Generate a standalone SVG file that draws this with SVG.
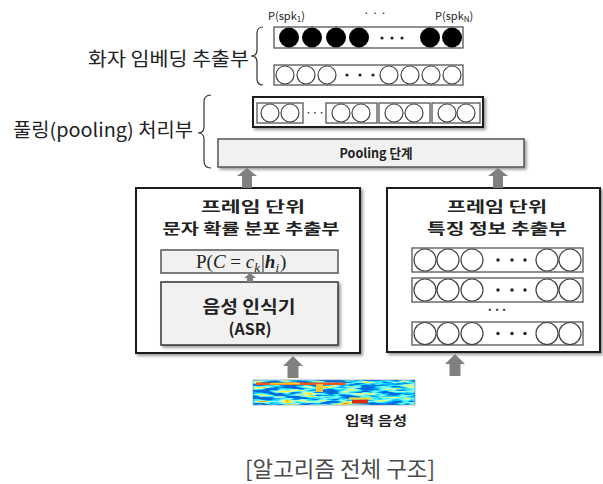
<svg xmlns="http://www.w3.org/2000/svg" width="603" height="484" viewBox="0 0 603 484">
  <defs>
    <style>
      .lbl { font-family: "Noto Sans CJK KR", "Noto Sans", sans-serif; fill: #222; }
      .bold { font-weight: bold; }
      .row { fill: #fff; stroke: #555; stroke-width: 1.3; }
      .cell { fill: #fff; stroke: #444; stroke-width: 1.2; }
      .dot { fill: #222; }
      .frame { fill: #fff; stroke: #1a1a1a; stroke-width: 2; }
      .panel { fill: #f1f1f1; stroke: #555; stroke-width: 1.5; }
      .brace { fill: none; stroke: #333; stroke-width: 1.2; }
      .arrow { fill: #808080; }
      .math { font-family: "Liberation Serif", "DejaVu Serif", serif; fill: #222; }
    </style>
    <filter id="shadow" x="-10%" y="-20%" width="130%" height="150%">
      <feDropShadow dx="2" dy="2" stdDeviation="1.4" flood-color="#000" flood-opacity="0.4"/>
    </filter>
    <!-- jet-coloured noise for the spectrogram strip -->
    <filter id="spec" x="253" y="380" width="162" height="25" filterUnits="userSpaceOnUse">
      <feTurbulence type="fractalNoise" baseFrequency="0.05 0.3" numOctaves="3" seed="7"/>
      <feColorMatrix type="matrix" values="2.2 0 0 0 -0.85  2.2 0 0 0 -0.85  2.2 0 0 0 -0.85  0 0 0 0 1"/>
      <feComponentTransfer>
        <feFuncR type="table" tableValues="0 0 0.05 0.3 0.9 1 0.85"/>
        <feFuncG type="table" tableValues="0.15 0.5 0.9 1 1 0.55 0.05"/>
        <feFuncB type="table" tableValues="0.75 1 1 0.7 0.1 0 0"/>
      </feComponentTransfer>
    </filter>
    <filter id="soft" x="-20%" y="-50%" width="140%" height="200%">
      <feGaussianBlur stdDeviation="0.6"/>
    </filter>
    <clipPath id="specClip"><rect x="253" y="380" width="162" height="25"/></clipPath>
  </defs>

  <rect width="603" height="484" fill="#fff"/>

  <!-- speaker embedding extractor -->
  <g id="speaker-embedding">
    <text class="lbl" x="88" y="66" font-size="19" textLength="161" lengthAdjust="spacingAndGlyphs">화자 임베딩 추출부</text>
    <path class="brace" d="M263,27 Q257,27 257,33 V50 Q257,56 251,56 Q257,56 257,62 V79 Q257,85 263,85"/>
    <text class="lbl" x="268" y="20" font-size="11">P(spk<tspan font-size="8" dy="2">1</tspan><tspan dy="-2">)</tspan></text>
    <text class="lbl" x="375" y="17" font-size="11" text-anchor="middle">· · ·</text>
    <text class="lbl" x="435" y="20" font-size="11">P(spk<tspan font-size="8" dy="2">N</tspan><tspan dy="-2">)</tspan></text>
    <rect class="row" x="274" y="27" width="189" height="21"/>
    <g fill="#000">
      <circle cx="289" cy="37.5" r="10"/>
      <circle cx="312" cy="37.5" r="10"/>
      <circle cx="336" cy="37.5" r="10"/>
      <circle cx="359" cy="37.5" r="10"/>
      <circle cx="430" cy="37.5" r="10"/>
      <circle cx="452" cy="37.5" r="10"/>
    </g>
    <circle class="dot" cx="382" cy="38" r="1.6"/>
    <circle class="dot" cx="392" cy="38" r="1.6"/>
    <circle class="dot" cx="402" cy="38" r="1.6"/>
    <rect class="row" x="274" y="65" width="189" height="20"/>
    <circle class="cell" cx="285" cy="75" r="9"/>
    <circle class="cell" cx="306" cy="75" r="9"/>
    <circle class="cell" cx="327" cy="75" r="9"/>
    <circle class="dot" cx="347" cy="75" r="1.6"/>
    <circle class="dot" cx="360" cy="75" r="1.6"/>
    <circle class="dot" cx="373" cy="75" r="1.6"/>
    <circle class="cell" cx="389" cy="75" r="9"/>
    <circle class="cell" cx="410" cy="75" r="9"/>
    <circle class="cell" cx="431" cy="75" r="9"/>
    <circle class="cell" cx="452" cy="75" r="9"/>
  </g>

  <!-- pooling processor -->
  <g id="pooling">
    <text class="lbl" x="13" y="137" font-size="19" textLength="180" lengthAdjust="spacingAndGlyphs">풀링(pooling) 처리부</text>
    <path class="brace" d="M211,95 Q204,95 204,102 V127 Q204,133 198,133 Q204,133 204,139 V161 Q204,168 211,168"/>
    <rect class="frame" x="253" y="97" width="230" height="30" filter="url(#shadow)"/>
    <rect class="row" x="257" y="103" width="46" height="20"/>
    <circle class="cell" cx="270" cy="113" r="9"/>
    <circle class="cell" cx="290" cy="113" r="9"/>
    <text class="lbl" x="315" y="117" font-size="12" text-anchor="middle">···</text>
    <rect class="row" x="326" y="103" width="51" height="20"/>
    <circle class="cell" cx="341" cy="113" r="9"/>
    <circle class="cell" cx="361" cy="113" r="9"/>
    <rect class="row" x="379" y="103" width="51" height="20"/>
    <circle class="cell" cx="394" cy="113" r="9"/>
    <circle class="cell" cx="414" cy="113" r="9"/>
    <rect class="row" x="432" y="103" width="48" height="20"/>
    <circle class="cell" cx="447" cy="113" r="9"/>
    <circle class="cell" cx="466" cy="113" r="9"/>
  </g>

  <g id="pooling-stage">
    <rect class="panel" x="218" y="139" width="306" height="28" filter="url(#shadow)"/>
    <text class="lbl bold" x="376" y="158" font-size="13" text-anchor="middle" textLength="73" lengthAdjust="spacingAndGlyphs">Pooling 단계</text>
  </g>

  <!-- frame-level character probability extractor -->
  <g id="char-prob">
    <rect class="frame" x="136" y="188" width="224" height="165" filter="url(#shadow)"/>
    <text class="lbl bold" x="253" y="212" font-size="14.5" text-anchor="middle" textLength="104" lengthAdjust="spacingAndGlyphs">프레임 단위</text>
    <text class="lbl bold" x="251" y="234" font-size="14.5" text-anchor="middle" textLength="177" lengthAdjust="spacingAndGlyphs">문자 확률 분포 추출부</text>
  </g>

  <g id="posterior">
    <rect class="panel" x="161" y="250" width="177" height="23"/>
    <text class="math" x="196" y="268" font-size="19">P(<tspan font-style="italic">C</tspan> = <tspan font-style="italic">c</tspan><tspan font-style="italic" font-size="13" dy="4">k</tspan><tspan dx="1" dy="-4">|</tspan><tspan font-style="italic" font-weight="bold">h</tspan><tspan font-style="italic" font-size="13" dy="4">i</tspan><tspan dx="1" dy="-4">)</tspan></text>
  </g>

  <g id="asr">
    <rect class="panel" x="161" y="282" width="177" height="63" filter="url(#shadow)" style="stroke:#333"/>
    <text class="lbl bold" x="249" y="313" font-size="17" text-anchor="middle" textLength="93" lengthAdjust="spacingAndGlyphs">음성 인식기</text>
    <text class="lbl bold" x="250" y="335" font-size="16" text-anchor="middle">(ASR)</text>
  </g>

  <!-- frame-level feature extractor -->
  <g id="feature">
    <rect class="frame" x="387" y="188" width="213" height="164" filter="url(#shadow)"/>
    <text class="lbl bold" x="497" y="212" font-size="14.5" text-anchor="middle" textLength="100" lengthAdjust="spacingAndGlyphs">프레임 단위</text>
    <text class="lbl bold" x="497" y="234" font-size="14.5" text-anchor="middle" textLength="140" lengthAdjust="spacingAndGlyphs">특징 정보 추출부</text>
    <g id="feat-row-1">
      <rect class="row" x="412" y="248" width="171" height="24"/>
      <circle class="cell" cx="425" cy="260" r="11"/>
      <circle class="cell" cx="448" cy="260" r="11"/>
      <circle class="cell" cx="472" cy="260" r="11"/>
      <circle class="dot" cx="498" cy="260" r="1.7"/>
      <circle class="dot" cx="512" cy="260" r="1.7"/>
      <circle class="dot" cx="525" cy="260" r="1.7"/>
      <circle class="cell" cx="547" cy="260" r="11"/>
      <circle class="cell" cx="570" cy="260" r="11"/>
    </g>
    <g id="feat-row-2">
      <rect class="row" x="412" y="278" width="171" height="24"/>
      <circle class="cell" cx="425" cy="290" r="11"/>
      <circle class="cell" cx="448" cy="290" r="11"/>
      <circle class="cell" cx="472" cy="290" r="11"/>
      <circle class="dot" cx="498" cy="290" r="1.7"/>
      <circle class="dot" cx="512" cy="290" r="1.7"/>
      <circle class="dot" cx="525" cy="290" r="1.7"/>
      <circle class="cell" cx="547" cy="290" r="11"/>
      <circle class="cell" cx="570" cy="290" r="11"/>
    </g>
    <text class="lbl bold" x="497" y="314" font-size="12" text-anchor="middle">···</text>
    <g id="feat-row-3">
      <rect class="row" x="412" y="322" width="171" height="23"/>
      <circle class="cell" cx="425" cy="333.5" r="11"/>
      <circle class="cell" cx="448" cy="333.5" r="11"/>
      <circle class="cell" cx="472" cy="333.5" r="11"/>
      <circle class="dot" cx="498" cy="333.5" r="1.7"/>
      <circle class="dot" cx="512" cy="333.5" r="1.7"/>
      <circle class="dot" cx="525" cy="333.5" r="1.7"/>
      <circle class="cell" cx="547" cy="333.5" r="11"/>
      <circle class="cell" cx="570" cy="333.5" r="11"/>
    </g>
  </g>

  <!-- input speech spectrogram -->
  <g id="input-speech">
    <rect x="253" y="380" width="162" height="25" fill="#2a7fff" filter="url(#spec)"/>
    <g clip-path="url(#specClip)" filter="url(#soft)">
      <path d="M256,382.5 H345 V385 H256 Z" fill="#f2541a"/>
      <path d="M270,383 H300 V384.5 H270 Z" fill="#ffd020"/>
      <path d="M316,384 h7 v8 h-7 Z" fill="#ffc030"/>
      <path d="M352,399.5 h16 v4 h-16 Z" fill="#e02a10"/>
      <path d="M349,397.5 h22 v2 h-22 Z" fill="#ffd830"/>
    </g>
    <rect x="253" y="380" width="162" height="25" fill="none" stroke="#6a7fa0" stroke-width="0.6"/>
    <text class="lbl bold" x="345" y="425" font-size="13" textLength="62" lengthAdjust="spacingAndGlyphs">입력 음성</text>
  </g>

  <!-- connectors -->
  <g id="connectors">
    <path class="arrow" d="M242,188 V176 H237 L247,168 L257,176 H252 V188 Z"/>
    <path class="arrow" d="M493,188 V176 H488 L498,168 L508,176 H503 V188 Z"/>
    <path class="arrow" d="M247,282 V278 H244 L250,273 L256,278 H253 V282 Z"/>
    <path class="arrow" d="M287.5,378 V366 H283 L293,356 L303,366 H298.5 V378 Z"/>
    <path class="arrow" d="M449.5,376 V364 H445 L455,354 L465,364 H460.5 V376 Z"/>
  </g>

  <text id="caption" x="245" y="477" font-family="'Noto Sans CJK KR', 'Noto Sans', sans-serif" font-size="22" fill="#4a4a4a" textLength="190" lengthAdjust="spacingAndGlyphs">[알고리즘 전체 구조]</text>
</svg>
